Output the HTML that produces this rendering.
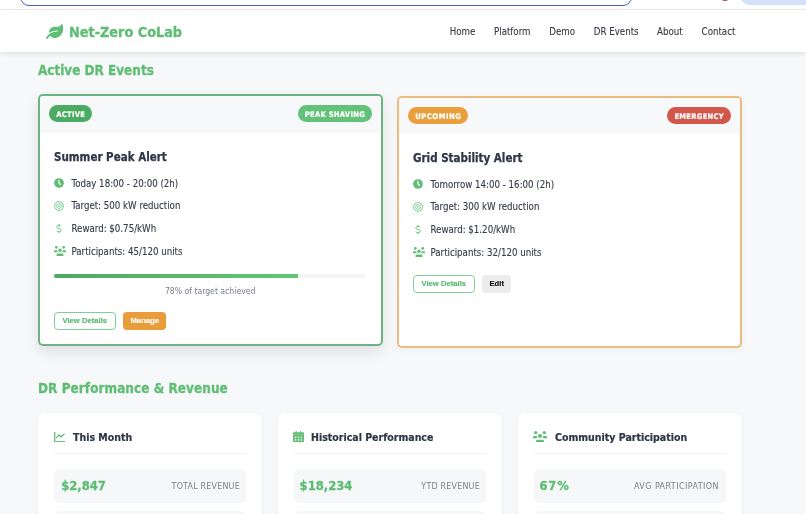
<!DOCTYPE html>
<html><head><meta charset="utf-8">
<style>
*{box-sizing:border-box;margin:0;padding:0;white-space:nowrap}
html,body{width:806px;height:514px;overflow:hidden}
body{background:#f7f8fa;font-family:"DejaVu Sans Condensed","DejaVu Sans","Liberation Sans",sans-serif;color:#3d4451;position:relative}
.abs{position:absolute;white-space:nowrap}
#chrome{position:absolute;left:0;top:0;width:806px;height:10px;background:#fff;border-bottom:1px solid #ebebeb}
#addr{position:absolute;left:20px;top:-20px;width:612px;height:26px;border:1.8px solid #4862ae;border-radius:9px;background:#fdfeff}
#rec{position:absolute;left:721px;top:-7px;width:8px;height:8px;border-radius:50%;background:#b8405e}
#pill{position:absolute;left:739px;top:-20px;width:90px;height:25px;border-radius:12px;background:#d3e1fa}
#nav{position:absolute;left:0;top:10px;width:806px;height:42px;background:#fff;box-shadow:0 2px 5px rgba(0,0,0,.09)}
.logo{position:absolute;left:69px;top:0.5px;font-weight:700;font-size:14.3px;color:#5fbd74;line-height:42px;-webkit-text-stroke:.3px #5fbd74}
.nl{position:absolute;top:1px;line-height:42px;font-size:9.65px;color:#353a42;-webkit-text-stroke:.1px #353a42}
h2{position:absolute;left:38px;font-size:13.4px;font-weight:700;color:#5fbd74;white-space:nowrap;-webkit-text-stroke:.3px #5fbd74}
.card{position:absolute;width:345px;height:251.8px;border-radius:5px;background:#fff;overflow:hidden}
.c1{left:38px;top:94.2px;border:2px solid #6ab582;box-shadow:0 6px 14px rgba(0,0,0,.10)}
.c2{left:397px;top:95.9px;border:2px solid #e9bd7e;box-shadow:0 2px 6px rgba(0,0,0,.05)}
.chead{position:absolute;left:0;top:0;right:0;height:36.4px;background:#f7f8fa}
.badge{position:absolute;top:9.3px;height:17px;line-height:19px;overflow:hidden;border-radius:9px;color:#fff;font-weight:700;font-size:7.6px;letter-spacing:.25px;padding:0 7px 0 7.3px;-webkit-text-stroke:.2px #fff}
.title{position:absolute;left:14px;font-size:11.5px;font-weight:700;color:#2e3747;-webkit-text-stroke:.25px #2e3747}
.row{position:absolute;left:14px;font-size:9.65px;color:#363d49;-webkit-text-stroke:0.12px #363d49;height:14px;line-height:14px}
.row svg{position:absolute}
.row span{position:absolute;left:17.5px;top:0}
.btn{position:absolute;height:17.7px;border-radius:4px;font-family:"Liberation Sans",Arial,sans-serif;font-weight:700;font-size:7.7px;line-height:18.6px;text-align:center}
.bo{border:1.3px solid #7fcf95;color:#5cb874;background:#fff;line-height:16px;-webkit-text-stroke:.15px #5cb874}
.bm{background:#e89c3a;color:#fff;-webkit-text-stroke:.15px #fff}
.be{background:#ececec;color:#111;-webkit-text-stroke:.15px #111}
.prog{position:absolute;left:14px;width:312.3px;height:4.7px;border-radius:3px;background:#f3f4f6;overflow:hidden}
.prog i{position:absolute;left:0;top:0;bottom:0;width:78.2%;background:linear-gradient(90deg,#4fa965,#62c57a)}
.pct{position:absolute;left:14px;width:312.3px;text-align:center;font-size:8.6px;color:#787e88}
.scard{position:absolute;top:413.2px;width:224px;height:140px;background:#fff;border-radius:7px;box-shadow:0 1px 4px rgba(0,0,0,.05)}
.shead{position:absolute;left:16px;right:16px;top:0;height:40.7px;border-bottom:1px solid #f1f2f4}
.stitle{position:absolute;left:19px;font-size:10.5px;font-weight:700;color:#2e3747;-webkit-text-stroke:.2px #2e3747}
.sbox{position:absolute;left:16px;right:16px;height:34px;background:#f6f7f9;border-radius:6px}
.sval{position:absolute;left:7.2px;font-size:12.9px;font-weight:700;color:#5cbd72;-webkit-text-stroke:.3px #5cbd72}
.slab{position:absolute;right:6.1px;font-size:8.9px;color:#7b818b;letter-spacing:.2px}
</style></head><body>
<div id="chrome"><div id="addr"></div><div id="rec"></div><div id="pill"></div></div>
<div id="nav">
  <svg class="abs" style="left:45.6px;top:13.9px" width="17.4" height="15.1" viewBox="0 0 576 512"><path fill="#5fbd74" d="M546.2 9.7c-5.6-12.5-21.6-13-28.3-1.2C486.9 62.4 431.4 96 368 96h-80C182 96 96 182 96 288c0 7 .8 13.7 1.5 20.5C161.3 262.8 253.4 224 384 224c8.8 0 16 7.2 16 16s-7.2 16-16 16C132.6 256 26 410.1 2.4 468c-6.6 16.3 1.2 34.9 17.5 41.6 16.4 6.8 35-1.1 41.8-17.3 1.5-3.6 20.9-47.9 71.9-90.6 32.4 43.9 94 85.8 174.9 77.2C465.5 467.5 576 326.7 576 154.3c0-50.2-10.8-102.2-29.8-144.6z"/></svg>
  <div class="logo">Net-Zero CoLab</div>
  <div class="nl" style="left:449.7px">Home</div>
  <div class="nl" style="left:494px">Platform</div>
  <div class="nl" style="left:549.3px">Demo</div>
  <div class="nl" style="left:593.8px">DR Events</div>
  <div class="nl" style="left:657px">About</div>
  <div class="nl" style="left:701.6px">Contact</div>
</div>

<h2 style="top:63.2px">Active DR Events</h2>

<!-- card 1 -->
<div class="card c1">
  <div class="chead"></div>
  <div class="badge" style="left:9px;background:#4bab63">ACTIVE</div>
  <div class="badge" style="right:9px;background:#62c27a">PEAK SHAVING</div>
  <div class="title" style="top:53.6px">Summer Peak Alert</div>
  <div class="row" style="top:80.7px"><svg style="left:0.2px;top:0.9px" width="10" height="10" viewBox="0 0 10 10"><circle cx="5" cy="5" r="4.85" fill="#5fbd74"/><path d="M4.9 2.3V5.1L6.5 6.4" stroke="#fff" stroke-width="1.25" fill="none" stroke-linecap="round" stroke-linejoin="round"/></svg><span>Today 18:00 - 20:00 (2h)</span></div>
  <div class="row" style="top:103.3px"><svg style="left:0.3px;top:1.4px" width="10" height="10" viewBox="0 0 10 10"><circle cx="5" cy="5" r="4.4" stroke="#6cc682" stroke-width="0.9" fill="none"/><circle cx="5" cy="5" r="2.4" stroke="#6cc682" stroke-width="0.85" fill="none"/><circle cx="5" cy="5" r="0.8" fill="#6cc682"/></svg><span>Target: 500 kW reduction</span></div>
  <div class="row" style="top:126px"><svg style="left:2.1px;top:2.3px" width="6" height="9" viewBox="0 0 6 9"><path d="M5.1 2.4C4.8 1.7 4 1.3 3 1.3 1.8 1.3 0.9 1.9 0.9 2.9 0.9 4 2 4.3 3 4.5 4.2 4.7 5.1 5.1 5.1 6.2 5.1 7.2 4.2 7.8 3 7.8 1.9 7.8 1.1 7.3 0.8 6.6M3 0V1.3M3 7.8V9" stroke="#5fbd74" stroke-width="1" fill="none"/></svg><span>Reward: $0.75/kWh</span></div>
  <div class="row" style="top:148.6px"><svg style="left:0;top:1.6px" width="12" height="10" viewBox="0 0 14 11.7"><g fill="#5fbd74"><circle cx="2.7" cy="1.7" r="1.6"/><circle cx="11.3" cy="1.7" r="1.6"/><circle cx="7" cy="4.9" r="2"/><path d="M0 7.2V6.1C0 5.4 0.5 4.9 1.2 4.9H3C3.7 4.9 4.1 5.4 4.1 6.1V7.2Z"/><path d="M9.9 7.2V6.1C9.9 5.4 10.3 4.9 11 4.9H12.8C13.5 4.9 14 5.4 14 6.1V7.2Z"/><path d="M3 11.7V10.3C3 9.4 3.7 8.7 4.6 8.7H9.4C10.3 8.7 11 9.4 11 10.3V11.7Z"/></g></svg><span>Participants: 45/120 units</span></div>
  <div class="prog" style="top:177.5px"><i></i></div>
  <div class="pct" style="top:189.5px">78% of target achieved</div>
  <div class="btn bo" style="left:14px;top:216px;width:61.6px">View Details</div>
  <div class="btn bm" style="left:83.2px;top:216px;width:43.2px">Manage</div>
</div>

<!-- card 2 -->
<div class="card c2">
  <div class="chead"></div>
  <div class="badge" style="left:9px;background:#e89f3c;letter-spacing:.5px">UPCOMING</div>
  <div class="badge" style="right:9px;background:#d3564a">EMERGENCY</div>
  <div class="title" style="top:53.6px">Grid Stability Alert</div>
  <div class="row" style="top:79.9px"><svg style="left:0.2px;top:0.9px" width="10" height="10" viewBox="0 0 10 10"><circle cx="5" cy="5" r="4.85" fill="#5fbd74"/><path d="M4.9 2.3V5.1L6.5 6.4" stroke="#fff" stroke-width="1.25" fill="none" stroke-linecap="round" stroke-linejoin="round"/></svg><span>Tomorrow 14:00 - 16:00 (2h)</span></div>
  <div class="row" style="top:102.5px"><svg style="left:0.3px;top:1.4px" width="10" height="10" viewBox="0 0 10 10"><circle cx="5" cy="5" r="4.4" stroke="#6cc682" stroke-width="0.9" fill="none"/><circle cx="5" cy="5" r="2.4" stroke="#6cc682" stroke-width="0.85" fill="none"/><circle cx="5" cy="5" r="0.8" fill="#6cc682"/></svg><span>Target: 300 kW reduction</span></div>
  <div class="row" style="top:125.2px"><svg style="left:2.1px;top:2.3px" width="6" height="9" viewBox="0 0 6 9"><path d="M5.1 2.4C4.8 1.7 4 1.3 3 1.3 1.8 1.3 0.9 1.9 0.9 2.9 0.9 4 2 4.3 3 4.5 4.2 4.7 5.1 5.1 5.1 6.2 5.1 7.2 4.2 7.8 3 7.8 1.9 7.8 1.1 7.3 0.8 6.6M3 0V1.3M3 7.8V9" stroke="#5fbd74" stroke-width="1" fill="none"/></svg><span>Reward: $1.20/kWh</span></div>
  <div class="row" style="top:147.8px"><svg style="left:0;top:1.6px" width="12" height="10" viewBox="0 0 14 11.7"><g fill="#5fbd74"><circle cx="2.7" cy="1.7" r="1.6"/><circle cx="11.3" cy="1.7" r="1.6"/><circle cx="7" cy="4.9" r="2"/><path d="M0 7.2V6.1C0 5.4 0.5 4.9 1.2 4.9H3C3.7 4.9 4.1 5.4 4.1 6.1V7.2Z"/><path d="M9.9 7.2V6.1C9.9 5.4 10.3 4.9 11 4.9H12.8C13.5 4.9 14 5.4 14 6.1V7.2Z"/><path d="M3 11.7V10.3C3 9.4 3.7 8.7 4.6 8.7H9.4C10.3 8.7 11 9.4 11 10.3V11.7Z"/></g></svg><span>Participants: 32/120 units</span></div>
  <div class="btn bo" style="left:14px;top:177.2px;width:61.6px">View Details</div>
  <div class="btn be" style="left:83.2px;top:177.2px;width:29px">Edit</div>
</div>

<h2 style="top:380.8px;letter-spacing:.07px">DR Performance &amp; Revenue</h2>

<div class="scard" style="left:38px">
  <div class="shead"></div>
  <svg class="abs" style="left:16px;top:18.6px" width="12" height="10.5" viewBox="0 0 12 10.5"><path d="M0.7 0V9.6H11.4" stroke="#6cc481" stroke-width="1.4" fill="none"/><path d="M2.3 6L5.1 2.9 7 4.9 10.5 1.9" stroke="#55ad6b" stroke-width="1.1" fill="none"/></svg>
  <div class="stitle" style="top:17.5px;left:35px">This Month</div>
  <div class="sbox" style="top:55.4px"><div class="sval" style="top:9.5px">$2,847</div><div class="slab" style="top:12.2px">TOTAL REVENUE</div></div>
  <div class="sbox" style="top:98.3px"></div>
</div>
<div class="scard" style="left:278px">
  <div class="shead"></div>
  <svg class="abs" style="left:15px;top:17.8px" width="11" height="11" viewBox="0 0 11 11"><rect x="0" y="1.2" width="11" height="9.8" rx="1" fill="#5fbd74"/><rect x="2.6" y="0" width="1" height="2" fill="#5fbd74"/><rect x="7" y="0" width="1" height="2" fill="#5fbd74"/><rect x="0" y="3.4" width="11" height="0.7" fill="#fff" opacity=".35"/><g fill="#fff"><rect x="1.8" y="5.6" width="1.5" height="1.4"/><rect x="4.75" y="5.6" width="1.5" height="1.4"/><rect x="7.7" y="5.6" width="1.5" height="1.4"/><rect x="1.8" y="8.2" width="1.5" height="1.4"/><rect x="4.75" y="8.2" width="1.5" height="1.4"/><rect x="7.7" y="8.2" width="1.5" height="1.4"/></g></svg>
  <div class="stitle" style="top:17.5px;left:33px">Historical Performance</div>
  <div class="sbox" style="top:55.4px"><div class="sval" style="top:9.5px;left:5.6px">$18,234</div><div class="slab" style="top:12.2px">YTD REVENUE</div></div>
  <div class="sbox" style="top:98.3px"></div>
</div>
<div class="scard" style="left:518px">
  <div class="shead"></div>
  <svg class="abs" style="left:14.9px;top:17.4px" width="14" height="11.7" viewBox="0 0 14 11.7"><g fill="#5fbd74"><circle cx="2.7" cy="1.7" r="1.6"/><circle cx="11.3" cy="1.7" r="1.6"/><circle cx="7" cy="4.9" r="2"/><path d="M0 7.2V6.1C0 5.4 0.5 4.9 1.2 4.9H3C3.7 4.9 4.1 5.4 4.1 6.1V7.2Z"/><path d="M9.9 7.2V6.1C9.9 5.4 10.3 4.9 11 4.9H12.8C13.5 4.9 14 5.4 14 6.1V7.2Z"/><path d="M3 11.7V10.3C3 9.4 3.7 8.7 4.6 8.7H9.4C10.3 8.7 11 9.4 11 10.3V11.7Z"/></g></svg>
  <div class="stitle" style="top:17.5px;left:37px">Community Participation</div>
  <div class="sbox" style="top:55.4px"><div class="sval" style="top:9.5px;letter-spacing:.9px;left:5.4px">67%</div><div class="slab" style="top:12.2px;letter-spacing:.45px;right:7px">AVG PARTICIPATION</div></div>
  <div class="sbox" style="top:98.3px"></div>
</div>
</body></html>
